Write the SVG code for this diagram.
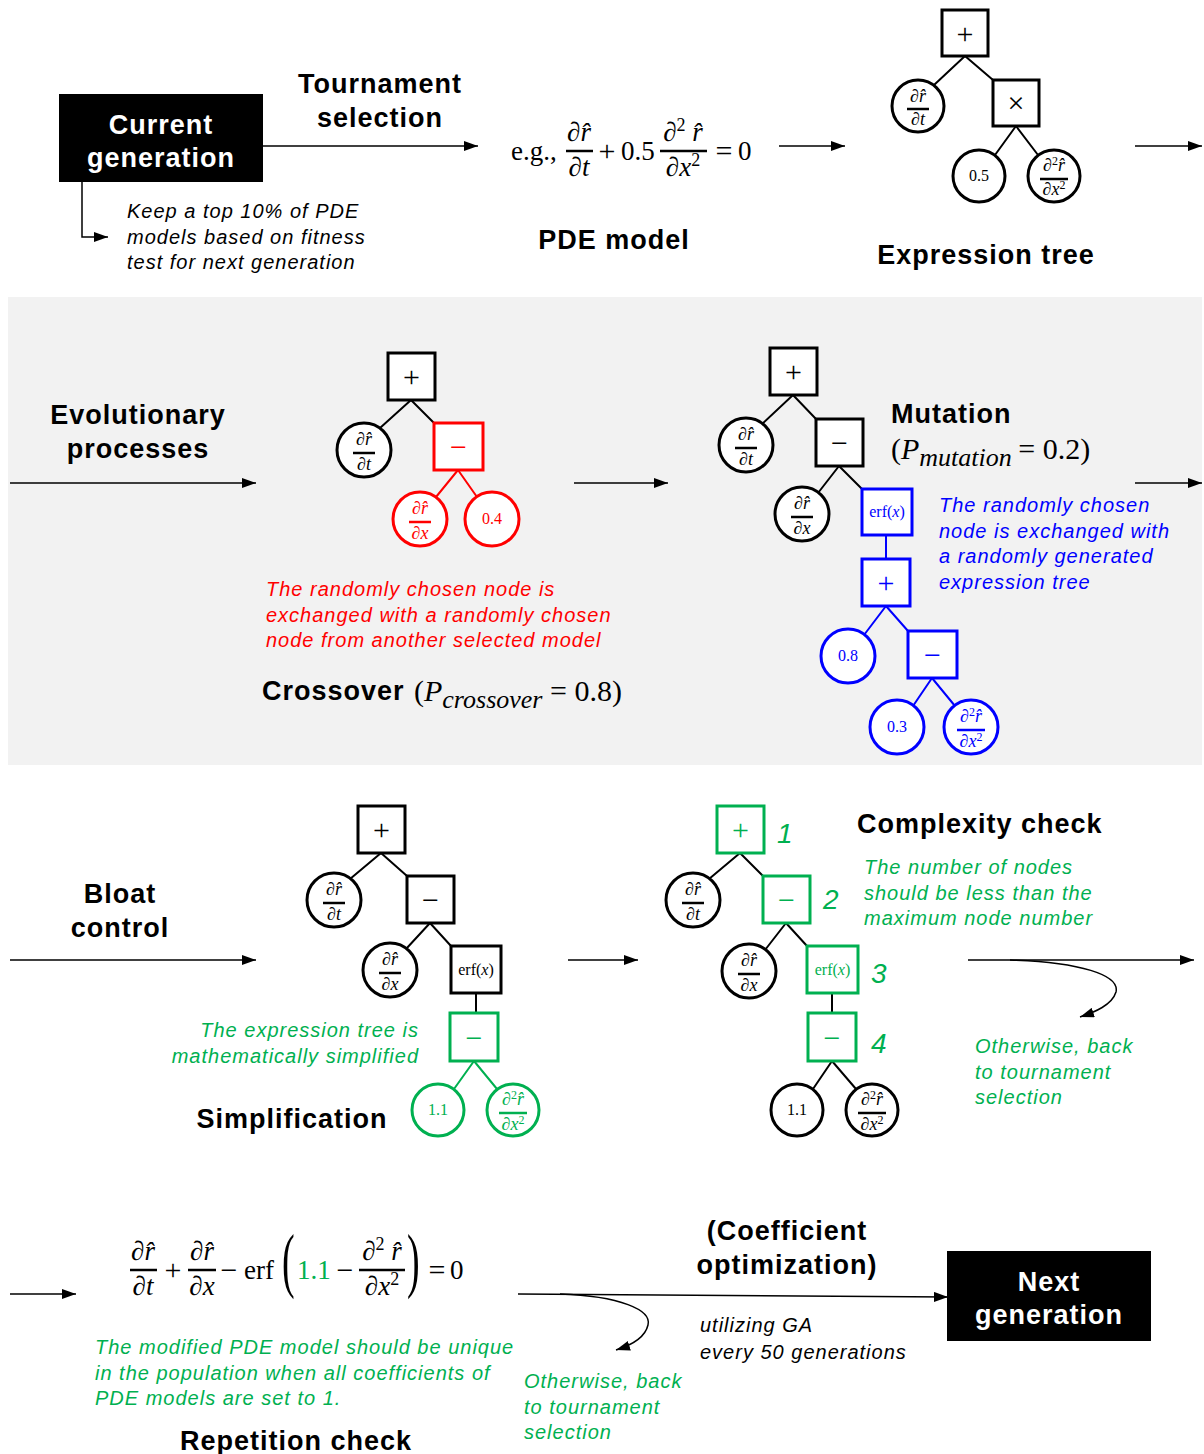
<svg xmlns="http://www.w3.org/2000/svg" width="1204" height="1454" viewBox="0 0 1204 1454">
<style>
.b{font-family:"Liberation Sans",Arial,sans-serif;font-weight:bold;font-size:27px;letter-spacing:1px}
.bw{font-family:"Liberation Sans",Arial,sans-serif;font-weight:bold;font-size:27px;letter-spacing:1px;fill:#fff;text-anchor:middle}
.i{font-family:"Liberation Sans",Arial,sans-serif;font-style:italic;font-size:20px;letter-spacing:1px}
.m{font-family:"Liberation Serif","DejaVu Serif",serif;font-style:italic;font-size:18px;text-anchor:middle}
.s{font-family:"Liberation Serif","DejaVu Serif",serif;font-size:16px;text-anchor:middle}
.op{font-family:"Liberation Serif","DejaVu Serif",serif;font-size:30px;text-anchor:middle}
.eq{font-family:"Liberation Serif","DejaVu Serif",serif;font-size:27px}
.eqo{font-family:"Liberation Serif","DejaVu Serif",serif;font-size:30px;text-anchor:middle}
.eqi{font-family:"Liberation Serif","DejaVu Serif",serif;font-size:27px;font-style:italic;text-anchor:middle}
.n{fill:#fff;stroke:#000;stroke-width:3}
.e{stroke:#000;stroke-width:2;fill:none}
.bar{stroke:#000;stroke-width:2.5}
.a{stroke:#000;stroke-width:1.5;fill:none}
</style>
<defs>
<marker id="ah" markerUnits="userSpaceOnUse" markerWidth="14" markerHeight="10" refX="14" refY="5" orient="auto"><path d="M0,0 L14,5 L0,10 z" fill="#000"/></marker>
</defs>
<rect x="8" y="297" width="1194" height="468" fill="#f2f2f2"/>

<!-- connectors -->
<g id="connectors">
<line class="a" x1="263" y1="146" x2="478" y2="146" marker-end="url(#ah)"/>
<polyline class="a" points="82,182 82,237 108,237" marker-end="url(#ah)"/>
<line class="a" x1="779" y1="146" x2="845" y2="146" marker-end="url(#ah)"/>
<line class="a" x1="1135" y1="146" x2="1202" y2="146" marker-end="url(#ah)"/>
<line class="a" x1="10" y1="483" x2="256" y2="483" marker-end="url(#ah)"/>
<line class="a" x1="574" y1="483" x2="668" y2="483" marker-end="url(#ah)"/>
<line class="a" x1="1135" y1="483" x2="1202" y2="483" marker-end="url(#ah)"/>
<line class="a" x1="10" y1="960" x2="256" y2="960" marker-end="url(#ah)"/>
<line class="a" x1="568" y1="960" x2="638" y2="960" marker-end="url(#ah)"/>
<line class="a" x1="968" y1="960" x2="1194" y2="960" marker-end="url(#ah)"/>
<path class="a" d="M1010,960 C1080,962 1120,975 1116,992 C1112,1005 1095,1012 1080,1017" marker-end="url(#ah)"/>
<line class="a" x1="10" y1="1294" x2="76" y2="1294" marker-end="url(#ah)"/>
<line class="a" x1="518" y1="1294" x2="948" y2="1297" marker-end="url(#ah)"/>
<path class="a" d="M560,1294 C620,1296 652,1310 648,1325 C645,1338 632,1345 616,1350" marker-end="url(#ah)"/>

<!-- tree edges -->
<path class="e" d="M965,56 L934,85 M965,56 L993,80 M1016,126 L995,155 M1016,126 L1038,155"/>
<path class="e" d="M411,400 L380,428 M411,400 L434,423"/>
<path class="e" style="stroke:#f00" d="M458,470 L436,497 M458,470 L477,497"/>
<path class="e" d="M793,395 L762,424 M793,395 L816,419 M839,466 L818,493 M839,466 L862,489"/>
<path class="e" style="stroke:#00f" d="M886,535 L886,559 M886,606 L864,635 M886,606 L908,631 M932,678 L913,706 M932,678 L955,706"/>
<path class="e" d="M381,853 L350,879 M381,853 L407,876 M430,923 L406,949 M430,923 L451,946 M476,993 L476,1013"/>
<path class="e" style="stroke:#00b050" d="M474,1061 L454,1089 M474,1061 L497,1089"/>
<path class="e" d="M740,853 L709,879 M740,853 L763,876 M786,923 L765,950 M786,923 L807,946 M832,993 L832,1013 M832,1061 L813,1089 M832,1061 L856,1089"/>
</g>

<!-- Top row -->
<g id="current-generation">
<rect x="59" y="94" width="204" height="88" fill="#000"/>
<text class="bw" x="161" y="134">Current</text>
<text class="bw" x="161" y="167">generation</text>
</g>
<g id="tournament-label"><text class="b" x="380" y="93" text-anchor="middle">Tournament</text><text class="b" x="380" y="127" text-anchor="middle">selection</text></g>
<g id="keep-note"><text class="i" x="127" y="218">Keep a top 10% of PDE</text><text class="i" x="127" y="244">models based on fitness</text><text class="i" x="127" y="269">test for next generation</text></g>

<g id="pde-model">
<text class="eq" x="511" y="160">e.g.,</text>
<text class="eqi" x="579" y="141">∂r̂</text>
<line class="bar" x1="566" y1="151" x2="593" y2="151"/>
<text class="eqi" x="579" y="176">∂t</text>
<text class="eqo" x="607" y="161">+</text>
<text class="eq" x="621" y="160">0.5</text>
<text class="eqi" x="683" y="141">∂<tspan font-style="normal" font-size="18" dy="-10">2</tspan><tspan dy="10"> r̂</tspan></text>
<line class="bar" x1="660" y1="151" x2="707" y2="151"/>
<text class="eqi" x="683" y="176">∂x<tspan font-style="normal" font-size="18" dy="-10">2</tspan></text>
<text class="eqo" x="724" y="161">=</text>
<text class="eq" x="738" y="160">0</text>
<text class="b" x="614" y="249" text-anchor="middle">PDE model</text>
</g>

<g id="expression-tree">
<rect class="n" x="942" y="10" width="46" height="46"/><text class="op" x="965" y="44">+</text>
<circle class="n" cx="918" cy="106" r="26"/><text class="m" x="918" y="102">∂r̂</text><line class="bar" x1="907" x2="929" y1="109" y2="109"/><text class="m" x="918" y="125">∂t</text>
<rect class="n" x="993" y="80" width="46" height="46"/><text class="op" x="1016" y="113">×</text>
<circle class="n" cx="979" cy="176" r="26"/><text class="s" x="979" y="181">0.5</text>
<circle class="n" cx="1054" cy="176" r="26"/><text class="m" x="1054" y="171">∂<tspan font-style="normal" font-size="12" dy="-6">2</tspan><tspan dy="6">r̂</tspan></text><line class="bar" x1="1040" x2="1068" y1="179" y2="179"/><text class="m" x="1054" y="195">∂x<tspan font-style="normal" font-size="12" dy="-6">2</tspan></text>
<text class="b" x="986" y="264" text-anchor="middle">Expression tree</text>
</g>

<!-- Evolutionary -->
<g id="evolutionary-label"><text class="b" x="138" y="424" text-anchor="middle">Evolutionary</text><text class="b" x="138" y="458" text-anchor="middle">processes</text></g>

<g id="crossover-tree">
<rect class="n" x="388" y="353" width="47" height="47"/><text class="op" x="411.5" y="387">+</text>
<circle class="n" cx="364" cy="450" r="27"/><text class="m" x="364" y="445">∂r̂</text><line class="bar" x1="353" x2="375" y1="453" y2="453"/><text class="m" x="364" y="470">∂t</text>
<rect class="n" style="stroke:#f00" x="434" y="423" width="49" height="47"/><text class="op" x="458.5" y="457" fill="#f00">−</text>
<circle class="n" style="stroke:#f00" cx="420" cy="519" r="27"/><text class="m" fill="#f00" x="420" y="514">∂r̂</text><line class="bar" style="stroke:#f00" x1="409" x2="431" y1="522" y2="522"/><text class="m" fill="#f00" x="420" y="539">∂x</text>
<circle class="n" style="stroke:#f00" cx="492" cy="519" r="27"/><text class="s" fill="#f00" x="492" y="524">0.4</text>
</g>
<g id="crossover-note" fill="#f00"><text class="i" x="266" y="596">The randomly chosen node is</text><text class="i" x="266" y="622">exchanged with a randomly chosen</text><text class="i" x="266" y="647">node from another selected model</text></g>
<g id="crossover-label"><text class="b" x="262" y="700">Crossover</text>
<text class="eq" x="414" y="701" style="font-size:30px">(<tspan font-style="italic">P</tspan><tspan font-style="italic" font-size="26" dy="7">crossover</tspan><tspan dy="-7"> = 0.8)</tspan></text></g>

<g id="mutation-tree">
<rect class="n" x="770" y="348" width="47" height="47"/><text class="op" x="793.5" y="382">+</text>
<circle class="n" cx="746" cy="445" r="27"/><text class="m" x="746" y="440">∂r̂</text><line class="bar" x1="735" x2="757" y1="448" y2="448"/><text class="m" x="746" y="465">∂t</text>
<rect class="n" x="816" y="419" width="47" height="47"/><text class="op" x="839.5" y="453">−</text>
<circle class="n" cx="802" cy="514" r="27"/><text class="m" x="802" y="509">∂r̂</text><line class="bar" x1="791" x2="813" y1="517" y2="517"/><text class="m" x="802" y="534">∂x</text>
<rect class="n" style="stroke:#00f" x="862" y="489" width="50" height="46"/><text class="s" fill="#00f" x="887" y="517" font-size="15">erf(<tspan font-style="italic">x</tspan>)</text>
<rect class="n" style="stroke:#00f" x="862" y="559" width="48" height="47"/><text class="op" fill="#00f" x="886" y="593">+</text>
<circle class="n" style="stroke:#00f" cx="848" cy="656" r="27"/><text class="s" fill="#00f" x="848" y="661">0.8</text>
<rect class="n" style="stroke:#00f" x="908" y="631" width="49" height="47"/><text class="op" fill="#00f" x="932.5" y="665">−</text>
<circle class="n" style="stroke:#00f" cx="897" cy="727" r="27"/><text class="s" fill="#00f" x="897" y="732">0.3</text>
<circle class="n" style="stroke:#00f" cx="971" cy="727" r="27"/><text class="m" fill="#00f" x="971" y="722">∂<tspan font-style="normal" font-size="12" dy="-6">2</tspan><tspan dy="6">r̂</tspan></text><line class="bar" style="stroke:#00f" x1="957" x2="985" y1="730" y2="730"/><text class="m" fill="#00f" x="971" y="747">∂x<tspan font-style="normal" font-size="12" dy="-6">2</tspan></text>
</g>
<g id="mutation-label"><text class="b" x="891" y="423">Mutation</text>
<text class="eq" x="891" y="459" style="font-size:30px">(<tspan font-style="italic">P</tspan><tspan font-style="italic" font-size="26" dy="7">mutation </tspan><tspan dy="-7"> = 0.2)</tspan></text></g>
<g id="mutation-note" fill="#00f"><text class="i" x="939" y="512">The randomly chosen</text><text class="i" x="939" y="538">node is exchanged with</text><text class="i" x="939" y="563">a randomly generated</text><text class="i" x="939" y="589">expression tree</text></g>

<!-- Bloat -->
<g id="bloat-label"><text class="b" x="120" y="903" text-anchor="middle">Bloat</text><text class="b" x="120" y="937" text-anchor="middle">control</text></g>
<g id="simplification-tree">
<rect class="n" x="358" y="806" width="47" height="47"/><text class="op" x="381.5" y="840">+</text>
<circle class="n" cx="334" cy="900" r="27"/><text class="m" x="334" y="895">∂r̂</text><line class="bar" x1="323" x2="345" y1="903" y2="903"/><text class="m" x="334" y="920">∂t</text>
<rect class="n" x="407" y="876" width="47" height="47"/><text class="op" x="430.5" y="910">−</text>
<circle class="n" cx="390" cy="970" r="27"/><text class="m" x="390" y="965">∂r̂</text><line class="bar" x1="379" x2="401" y1="973" y2="973"/><text class="m" x="390" y="990">∂x</text>
<rect class="n" x="451" y="946" width="50" height="47"/><text class="s" x="476" y="975" font-size="15">erf(<tspan font-style="italic">x</tspan>)</text>
<rect class="n" style="stroke:#00b050" x="450" y="1013" width="48" height="48"/><text class="op" fill="#00b050" x="474" y="1048">−</text>
<circle class="n" style="stroke:#00b050" cx="438" cy="1110" r="26"/><text class="s" fill="#00b050" x="438" y="1115">1.1</text>
<circle class="n" style="stroke:#00b050" cx="513" cy="1110" r="26"/><text class="m" fill="#00b050" x="513" y="1105">∂<tspan font-style="normal" font-size="12" dy="-6">2</tspan><tspan dy="6">r̂</tspan></text><line class="bar" style="stroke:#00b050" x1="499" x2="527" y1="1113" y2="1113"/><text class="m" fill="#00b050" x="513" y="1130">∂x<tspan font-style="normal" font-size="12" dy="-6">2</tspan></text>
</g>
<g id="simplification-note" fill="#00b050" text-anchor="end"><text class="i" x="419" y="1037">The expression tree is</text><text class="i" x="419" y="1063">mathematically simplified</text></g>
<g id="simplification-label"><text class="b" x="292" y="1128" text-anchor="middle">Simplification</text></g>

<g id="complexity-tree">
<rect class="n" style="stroke:#00b050" x="717" y="806" width="47" height="47"/><text class="op" fill="#00b050" x="740.5" y="840">+</text>
<circle class="n" cx="693" cy="900" r="27"/><text class="m" x="693" y="895">∂r̂</text><line class="bar" x1="682" x2="704" y1="903" y2="903"/><text class="m" x="693" y="920">∂t</text>
<rect class="n" style="stroke:#00b050" x="763" y="876" width="47" height="47"/><text class="op" fill="#00b050" x="786.5" y="910">−</text>
<circle class="n" cx="749" cy="971" r="27"/><text class="m" x="749" y="966">∂r̂</text><line class="bar" x1="738" x2="760" y1="974" y2="974"/><text class="m" x="749" y="991">∂x</text>
<rect class="n" style="stroke:#00b050" x="807" y="946" width="51" height="47"/><text class="s" fill="#00b050" x="832.5" y="975" font-size="15">erf(<tspan font-style="italic">x</tspan>)</text>
<rect class="n" style="stroke:#00b050" x="808" y="1013" width="48" height="48"/><text class="op" fill="#00b050" x="832" y="1048">−</text>
<circle class="n" cx="797" cy="1110" r="26"/><text class="s" x="797" y="1115">1.1</text>
<circle class="n" cx="872" cy="1110" r="26"/><text class="m" x="872" y="1105">∂<tspan font-style="normal" font-size="12" dy="-6">2</tspan><tspan dy="6">r̂</tspan></text><line class="bar" x1="858" x2="886" y1="1113" y2="1113"/><text class="m" x="872" y="1130">∂x<tspan font-style="normal" font-size="12" dy="-6">2</tspan></text>
<g fill="#00b050" font-family="Liberation Sans, Arial, sans-serif" font-style="italic" font-size="28"><text x="777" y="843">1</text><text x="823" y="909">2</text><text x="871" y="983">3</text><text x="871" y="1053">4</text></g>
</g>
<g id="complexity-label"><text class="b" x="857" y="833">Complexity check</text></g>
<g id="complexity-note" fill="#00b050"><text class="i" x="864" y="874">The number of nodes</text><text class="i" x="864" y="900">should be less than the</text><text class="i" x="864" y="925">maximum node number</text></g>
<g id="otherwise-1" fill="#00b050"><text class="i" x="975" y="1053">Otherwise, back</text><text class="i" x="975" y="1079">to tournament</text><text class="i" x="975" y="1104">selection</text></g>

<!-- Bottom row -->
<g id="modified-pde">
<text class="eqi" x="143" y="1260">∂r̂</text><line class="bar" x1="130" y1="1270" x2="157" y2="1270"/><text class="eqi" x="143" y="1295">∂t</text>
<text class="eqo" x="173" y="1280">+</text>
<text class="eqi" x="202" y="1260">∂r̂</text><line class="bar" x1="188" y1="1270" x2="216" y2="1270"/><text class="eqi" x="202" y="1295">∂x</text>
<text class="eqo" x="229" y="1280">−</text>
<text class="eq" x="244" y="1279">erf</text>
<text class="eq" x="0" y="0" style="font-size:38px" transform="translate(282,1284) scale(1,1.9)">(</text>
<text class="eq" x="297" y="1279" fill="#00b050">1.1</text>
<text class="eqo" x="345" y="1280">−</text>
<text class="eqi" x="382" y="1260">∂<tspan font-style="normal" font-size="18" dy="-10">2</tspan><tspan dy="10"> r̂</tspan></text><line class="bar" x1="359" y1="1270" x2="405" y2="1270"/><text class="eqi" x="382" y="1295">∂x<tspan font-style="normal" font-size="18" dy="-10">2</tspan></text>
<text class="eq" x="0" y="0" style="font-size:38px" transform="translate(407,1284) scale(1,1.9)">)</text>
<text class="eqo" x="437" y="1280">=</text>
<text class="eq" x="450" y="1279">0</text>
</g>
<g id="repetition-note" fill="#00b050"><text class="i" x="95" y="1354">The modified PDE model should be unique</text><text class="i" x="95" y="1380">in the population when all coefficients of</text><text class="i" x="95" y="1405">PDE models are set to 1.</text></g>
<g id="repetition-label"><text class="b" x="296" y="1450" text-anchor="middle">Repetition check</text></g>
<g id="coef-label"><text class="b" x="787" y="1240" text-anchor="middle">(Coefficient</text><text class="b" x="787" y="1274" text-anchor="middle">optimization)</text></g>
<g id="ga-note"><text class="i" x="700" y="1332">utilizing GA</text><text class="i" x="700" y="1359">every 50 generations</text></g>
<g id="otherwise-2" fill="#00b050"><text class="i" x="524" y="1388">Otherwise, back</text><text class="i" x="524" y="1414">to tournament</text><text class="i" x="524" y="1439">selection</text></g>
<g id="next-generation">
<rect x="947" y="1251" width="204" height="90" fill="#000"/>
<text class="bw" x="1049" y="1291">Next</text>
<text class="bw" x="1049" y="1324">generation</text>
</g>
</svg>
